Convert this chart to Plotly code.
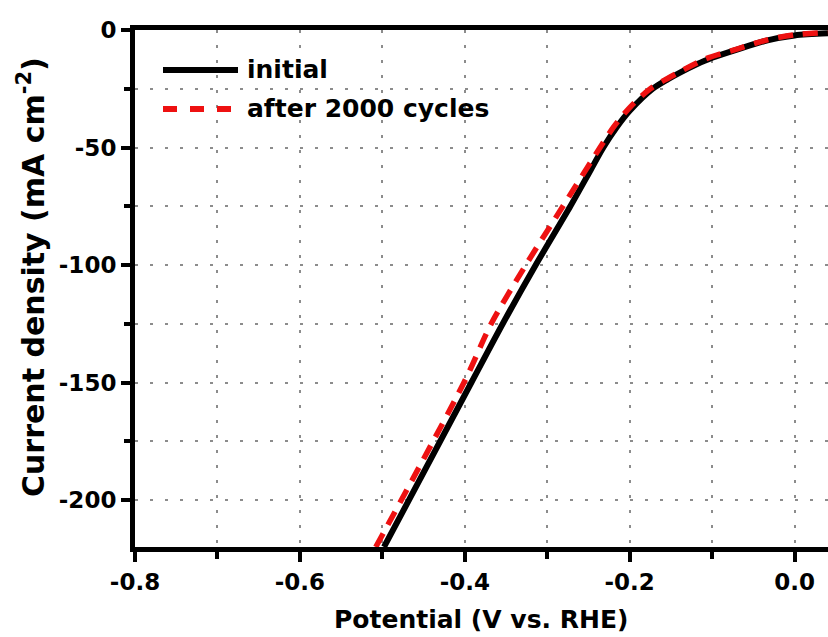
import plotly.graph_objects as go

# ---- data ----
initial_v = [-0.498, -0.392, -0.354, -0.314, -0.272, -0.248, -0.232, -0.216, -0.200,
             -0.172, -0.154, -0.139, -0.120, -0.100, -0.069, -0.033, 0.000, 0.041]
initial_j = [-220, -150, -125, -100, -75, -60, -50, -41.5, -34.4,
             -25.0, -21.0, -18.1, -14.8, -11.8, -8.2, -4.4, -2.3, -1.4]

after_v = [-0.508, -0.401, -0.368, -0.326, -0.281, -0.236, -0.219, -0.200, -0.175,
           -0.141, -0.108, -0.069, -0.033, 0.000, 0.041]
after_j = [-220, -150, -125, -100, -75, -50, -41.0, -33.0, -25.0,
           -18.1, -12.3, -8.0, -4.2, -2.0, -1.0]

x_tickvals = [-0.8, -0.6, -0.4, -0.2, 0.0]
x_ticktext = ["-0.8", "-0.6", "-0.4", "-0.2", "0.0"]
y_tickvals = [0, -50, -100, -150, -200]
y_ticktext = ["0", "-50", "-100", "-150", "-200"]

series_names = ["initial", "after 2000 cycles"]

FONT = "DejaVu Sans, Verdana, sans-serif"

fig = go.Figure()
fig.add_trace(go.Scatter(x=initial_v, y=initial_j, mode="lines", name=series_names[0],
                         line=dict(color="black", width=6, shape="spline", smoothing=0.8),
                         showlegend=False))
fig.add_trace(go.Scatter(x=after_v, y=after_j, mode="lines", name=series_names[1],
                         line=dict(color="#ee1111", width=5.5, dash="15px,10px",
                                   shape="spline", smoothing=0.8),
                         showlegend=False))

L, T, B, W, H = 135, 30, 90, 828, 637
pw, ph = W - L, H - T - B


def px(xp):
    return (xp - L) / pw


def py(yp):
    return (H - B - yp) / ph


grid_common = dict(showgrid=True, gridcolor="#8c8c8c", gridwidth=2, griddash="3px,12px")

fig.update_layout(
    width=W, height=H,
    margin=dict(l=L, r=0, t=T, b=B),
    paper_bgcolor="white", plot_bgcolor="white",
    font=dict(family=FONT, size=23, color="black", weight="bold"),
    xaxis=dict(
        range=[-0.8, 0.0405], tickvals=x_tickvals, ticktext=x_ticktext,
        showline=True, linecolor="black", linewidth=5, mirror=True,
        ticks="outside", ticklen=10, tickwidth=4, tickcolor="black",
        zeroline=False, **grid_common,
        minor=dict(dtick=0.1, tick0=-0.8, ticks="outside", ticklen=7, tickwidth=4,
                   tickcolor="black", **grid_common),
        tickfont=dict(family=FONT, size=23, weight="bold"),
    ),
    yaxis=dict(
        range=[-220, 0], tickvals=y_tickvals, ticktext=y_ticktext,
        showline=True, linecolor="black", linewidth=5, mirror=False,
        ticks="outside", ticklen=9, tickwidth=4, tickcolor="black",
        zeroline=False, **grid_common,
        minor=dict(dtick=25, tick0=0, ticks="outside", ticklen=6, tickwidth=4,
                   tickcolor="black", **grid_common),
        tickfont=dict(family=FONT, size=23, weight="bold"),
    ),
)

# axis titles
fig.add_annotation(text="Potential (V vs. RHE)", xref="paper", yref="paper",
                   x=px(481), y=py(619), xanchor="center", yanchor="middle",
                   showarrow=False, font=dict(family=FONT, size=25, weight="bold"))
fig.add_annotation(text="Current density (mA cm<sup>-2</sup>)", xref="paper", yref="paper",
                   x=px(31), y=py(277), xanchor="center", yanchor="middle", textangle=-90,
                   showarrow=False, font=dict(family=FONT, size=30, weight="bold"))

# legend (drawn manually to match long line samples)
fig.add_shape(type="line", xref="paper", yref="paper", x0=px(163), x1=px(238),
              y0=py(70), y1=py(70), line=dict(color="black", width=6))
fig.add_shape(type="line", xref="paper", yref="paper", x0=px(163), x1=px(231),
              y0=py(109), y1=py(109), line=dict(color="#ee1111", width=6, dash="14px,13px"))
fig.add_annotation(text=series_names[0], xref="paper", yref="paper", x=px(245), y=py(69),
                   xanchor="left", yanchor="middle", showarrow=False,
                   font=dict(family=FONT, size=25, weight="bold"))
fig.add_annotation(text=series_names[1], xref="paper", yref="paper", x=px(245), y=py(108),
                   xanchor="left", yanchor="middle", showarrow=False,
                   font=dict(family=FONT, size=25, weight="bold"))

fig.write_html("out.html", config={"displayModeBar": False},
               post_script="document.body.style.margin='0';document.body.style.padding='0';"
                           "document.documentElement.style.overflow='hidden';")
